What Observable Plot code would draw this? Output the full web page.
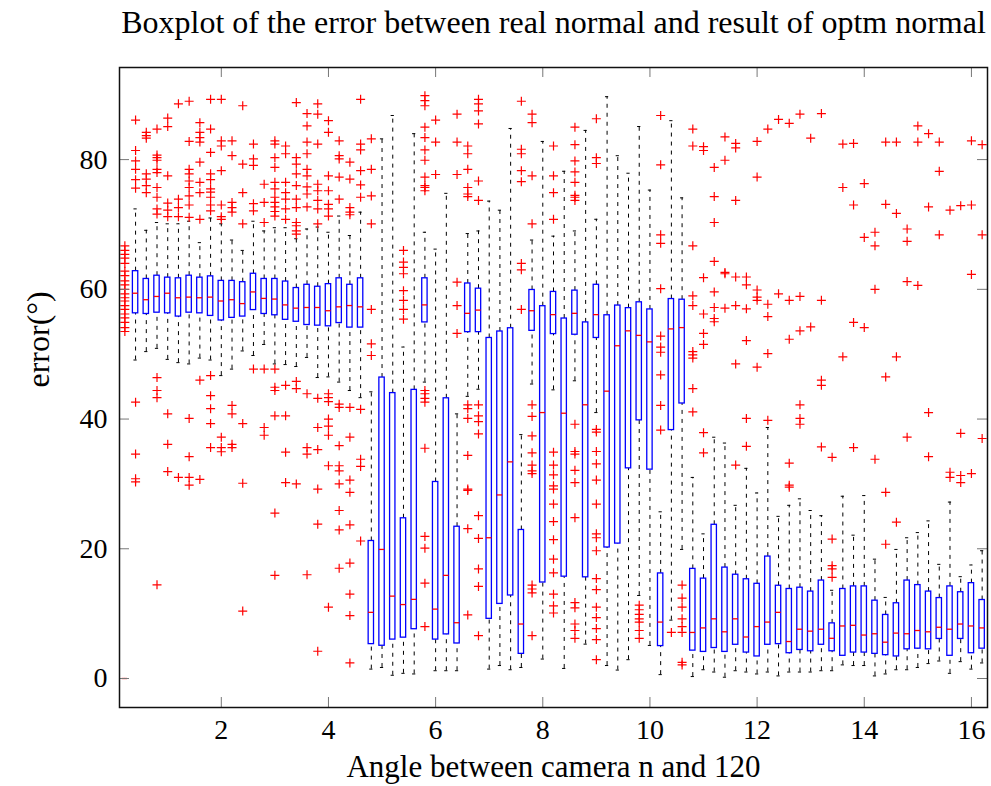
<!DOCTYPE html>
<html><head><meta charset="utf-8">
<script src="https://cdn.jsdelivr.net/npm/d3@7"></script>
<script src="https://cdn.jsdelivr.net/npm/@observablehq/plot@0.6"></script>
<style>body{margin:0;background:#fff}</style>
</head><body><div id="chart"></div>
<script>
const titleText = "Boxplot of the error between real normal and result of optm normal";
const xLabel = "Angle between camera n and 120";
const yLabel = "error(°)";
const xTicks = [2, 4, 6, 8, 10, 12, 14, 16];
const yTicks = [0, 20, 40, 60, 80];

const angles = [0.2,0.4,0.6,0.8,1.0,1.2,1.4,1.6,1.8,2.0,2.2,2.4,2.6,2.8,3.0,3.2,3.4,3.6,3.8,4.0,
4.2,4.4,4.6,4.8,5.0,5.2,5.4,5.6,5.8,6.0,6.2,6.4,6.6,6.8,7.0,7.2,7.4,7.6,7.8,8.0,
8.2,8.4,8.6,8.8,9.0,9.2,9.4,9.6,9.8,10.0,10.2,10.4,10.6,10.8,11.0,11.2,11.4,11.6,11.8,12.0,
12.2,12.4,12.6,12.8,13.0,13.2,13.4,13.6,13.8,14.0,14.2,14.4,14.6,14.8,15.0,15.2,15.4,15.6,15.8,16.0,16.2];

const whiskerLow = [0,49.1,50.4,50.9,49.2,48.7,48.5,49.4,49.1,46.7,47.7,50.5,49.8,51.5,48.5,48.4,48.1,49.5,46.4,46.5,
45.7,44.4,43.3,1.45,1.7,0.5,0.8,0.7,45.7,1.2,1.2,1.2,43.5,44.6,1.45,2.0,1.35,1.7,45.4,3.0,
44.5,1.55,45.9,5.3,41.0,2.0,1.3,2.9,12.8,5.1,0.6,9.0,19.9,0.3,1.35,1.0,0.2,1.2,1.0,0.7,
1.0,0.4,1.0,1.0,1.0,1.2,1.2,2.1,2.0,2.0,0.4,0.7,1.35,1.35,1.7,2.3,2.7,0.8,2.6,1.45,2.4];
const q1 = [0,56.3,56.2,56.4,56.3,55.8,56.4,56.3,55.9,55.2,55.6,55.8,56.8,56.2,56.0,55.3,55.0,54.5,54.4,54.3,
54.8,54.1,54.1,5.3,5.05,6.0,6.3,7.6,54.9,6.0,6.8,5.4,53.4,53.4,9.2,11.5,12.8,3.8,53.6,14.8,
53.1,15.7,53.0,15.6,52.5,20.2,20.8,32.4,39.8,32.2,5.0,38.3,42.4,4.3,4.1,4.7,4.1,5.2,4.0,3.4,
5.2,5.3,3.9,4.4,4.2,5.2,4.2,3.5,4.0,4.0,3.8,3.6,3.4,4.5,4.6,4.5,6.1,3.5,6.1,3.9,4.6];
const median = [0,59.4,58.4,58.9,59.4,58.7,58.8,58.7,58.8,58.2,58.4,57.8,59.6,58.6,58.5,57.6,57.1,57.2,57.2,56.7,
57.3,57.5,57.3,10.2,19.9,12.7,11.4,12.2,57.6,10.7,15.9,8.6,56.3,56.8,21.7,28.3,33.4,8.4,56.7,41.0,
56.1,40.9,56.3,42.2,56.1,44.3,51.3,53.6,52.9,51.9,8.7,53.9,54.1,7.1,7.8,9.2,7.2,9.2,6.4,8.0,
8.7,10.2,5.7,7.6,7.3,7.6,6.2,8.1,8.2,6.7,6.9,5.6,7.0,6.9,7.4,7.2,7.9,7.6,8.4,8.1,7.8];
const q3 = [0,62.8,61.6,62.1,61.8,61.7,62.1,61.8,62.0,61.3,61.3,61.1,62.4,61.6,61.6,61.2,60.2,60.7,60.4,60.8,
61.7,60.7,61.7,21.2,46.4,44.0,24.7,44.5,61.7,30.3,43.2,23.4,60.9,60.1,52.5,53.5,54.0,22.9,59.9,57.4,
59.6,55.5,59.8,54.9,60.7,56.0,57.5,57.1,58.0,56.9,16.2,58.5,58.4,16.9,15.4,23.7,17.1,16.0,15.3,14.6,
18.8,14.3,13.8,14.0,13.4,15.1,8.5,13.8,14.2,14.2,12.0,9.8,11.6,15.1,14.4,13.4,12.4,14.2,13.3,14.7,12.1];
const whiskerHigh = [0,72.4,69.1,70.3,70.1,70.1,70.5,67.2,71.0,70.1,67.6,66.0,70.5,69.0,69.5,69.5,67.8,69.3,69.6,68.8,
71.3,68.3,71.9,44.2,83.2,86.8,51.1,84.0,68.8,66.2,74.8,40.8,68.6,69.0,73.6,72.2,84.8,37.6,67.6,82.8,
68.2,78.2,69.0,84.5,70.8,89.7,80.6,77.9,85.1,75.3,25.7,86.0,74.1,31.0,22.3,37.2,36.3,26.7,32.4,28.6,
38.7,25.0,26.7,27.7,25.9,25.1,13.6,28.1,22.1,28.2,18.4,12.5,19.9,21.7,22.5,24.3,17.6,27.2,15.7,17.5,19.7];

const outliers = [
[66.7,66.0,65.4,64.8,64.0,62.8,62.1,61.3,60.7,60.0,59.3,58.7,58.2,57.5,56.9,56.2,55.6,54.9,54.1,53.5],
[86.1,81.4,79.8,78.5,76.9,75.6,42.6,34.6,30.8,30.3],
[84.2,83.7,83.3,77.8,77.0,76.0,74.9],
[84.7,80.7,80.3,79.9,78.5,78.0,75.7,74.2,72.4,71.6,46.4,44.4,43.3,14.45],
[86.4,85.1,77.5,73.3,72.2,71.2,40.8,36.1,31.9],
[88.6,73.9,72.6,71.2,31.0],
[89.0,82.8,78.5,77.8,76.7,75.7,74.4,73.0,71.1,40.1,34.2,31.0,29.8],
[85.7,84.2,83.4,82.7,79.6,76.5,74.9,70.8,46.0,30.7],
[89.3,84.7,81.1,77.8,76.9,75.5,75.0,74.2,73.0,72.1,46.7,43.6,41.6,39.3,35.6],
[89.3,82.9,82.1,78.3,73.0,71.2,70.8,37.2,35.6,34.96],
[82.9,80.6,73.4,72.6,71.9,42.1,40.8,36.1,35.6],
[88.3,79.3,74.9,70.1,39.3,30.1,10.4],
[82.4,80.1,79.1,73.2,72.1,47.7],
[76.2,73.4,70.3,47.7,38.7,37.5],
[82.9,82.4,80.3,78.8,76.5,75.5,74.2,73.4,72.7,72.0,71.3,47.7,44.9,44.4,40.5,25.5,15.9],
[82.1,80.9,76.5,74.9,73.9,72.4,70.8,45.2,40.5,34.9,30.2],
[88.8,80.3,79.3,77.8,76.0,73.9,72.6,70.3,69.8,69.0,68.5,45.8,44.7,30.0],
[87.1,85.2,82.7,80.9,78.5,77.5,75.8,74.7,72.7,43.9,35.6,34.6,16.0],
[88.6,87.0,82.4,76.2,75.2,73.7,72.4,70.1,43.2,38.7,35.3,29.2,23.8,4.2],
[86.0,84.2,77.5,75.2,73.1,72.4,71.3,43.9,43.3,42.7,40.0,38.9,37.5,32.8,11.0],
[82.9,80.6,80.1,77.3,73.9,42.3,41.8,35.9,32.8,32.0,30.0,25.9,22.9,17.0],
[79.6,77.0,72.6,71.9,71.5,41.8,37.2,30.6,28.7,23.7,17.8,13.0,9.7,2.4],
[89.3,82.4,81.5,78.3,76.1,74.2,41.5,33.8,32.7,21.2],
[83.2,78.5,74.4,70.1,56.9,51.6,49.8],
[],
[],
[66.0,64.2,63.4,62.4,59.8,58.3,56.9,55.4],
[],
[89.85,89.1,88.3,85.0,83.4,81.5,79.9,77.3,76.0,75.7,75.2,44.4,43.9,43.2,42.6,35.5,21.9,20.1,14.7,8.0],
[86.1,82.7,77.7],
[],
[87.0,82.7,77.7,61.1,57.5,53.2],
[82.1,80.9,78.5,75.7,74.7,74.3,42.2,41.6,40.1,34.4,29.2,29.0,23.1,9.8],
[89.3,88.6,87.5,85.5,76.7,73.7,42.2,40.5,39.6,37.7,25.1,21.6,16.9,14.2,6.6],
[],
[],
[],
[89.0,81.6,80.9,78.3,76.6,64.0,63.0,56.9],
[87.0,85.7,77.5,70.1,42.2,40.4,37.4,34.8,32.9,32.0,31.6,14.4,13.8,13.2,6.6],
[],
[82.1,77.5,74.9,70.8,34.9,32.9,31.4,29.7,29.2,26.9,24.2,21.4,18.4,16.3,13.0,11.2,10.1],
[],
[85.0,82.3,79.8,78.1,76.5,74.5,74.2,73.7,39.2,35.0,34.6,32.1,30.2,24.8,11.7,10.9,8.4,7.4,6.2],
[],
[86.3,80.3,79.4,38.4,38.0,35.0,33.1,30.6,26.9,22.3,21.7,19.7,15.4,13.7,11.0,9.4,7.7,6.0,2.9],
[],
[],
[],
[11.3,10.6,9.9,9.2,8.7,7.4,6.2],
[],
[86.8,79.2,68.4,67.1,60.1,52.8,51.1,50.3,46.8,42.1,38.3],
[7.1],
[14.4,12.4,11.0,9.2,8.0,7.1,2.5,2.1],
[84.7,82.1,66.7,59.0,57.5,50.4,49.9,49.4,44.7,41.1],
[82.0,81.4,61.8,56.2,53.2,51.5,37.9,34.8],
[78.8,74.3,70.3,64.3,59.6,57.2,55.5,55.0],
[83.5,79.9,62.6,62.4,57.1],
[82.5,81.8,73.7,61.9,57.5,48.5,32.9],
[61.9,60.7,57.0,52.1,40.1,35.8],
[82.8,77.3,59.9,58.8,58.3,48.0],
[84.7,57.7,55.8,50.1,39.8],
[86.2,59.3],
[85.6,58.3,52.3,33.2,29.8,29.5],
[87.0,58.9,53.6,42.2,40.1,39.2],
[83.3,54.2],
[87.1,58.3,46.0,45.2,35.7],
[34.1,21.5,17.4,16.9,15.6],
[82.4,75.7,49.6],
[82.5,73.0,54.9,35.6],
[76.3,68.0,54.1],
[68.8,66.7,60.0,33.8],
[82.7,73.1,46.5,28.7,20.7],
[82.7,71.7,49.6,24.1],
[69.3,67.4,61.2,37.2],
[85.2,82.7,60.6],
[84.0,72.7,41.0,34.2],
[82.7,78.2,68.4],
[72.2,31.8,31.0],
[72.9,37.8,31.3,30.2],
[82.9,73.0,62.3,31.6],
[82.3,68.4,37.0]
];

const boxes = angles.map((x, i) => ({x, lo: whiskerLow[i], q1: q1[i], med: median[i], q3: q3[i], hi: whiskerHigh[i]}));
const points = outliers.flatMap((ys, i) => ys.map(y => ({x: angles[i], y})));

const plusSymbol = {
  draw(ctx, size) {
    const r = Math.sqrt(size / Math.PI);
    ctx.moveTo(-r, 0); ctx.lineTo(r, 0);
    ctx.moveTo(0, -r); ctx.lineTo(0, r);
  }
};
const hw = 0.05, cw = 0.03;
const serif = "'Liberation Serif', 'Times New Roman', serif";

const chart = Plot.plot({
  width: 991, height: 786,
  marginLeft: 119, marginRight: 4, marginTop: 67, marginBottom: 79,
  style: {fontFamily: serif, fontSize: "28px", background: "white", color: "black"},
  x: {domain: [0.1, 16.3]},
  y: {domain: [-4.47, 94.2]},
  marks: [
    Plot.ruleX(boxes, {x: "x", y1: "q3", y2: "hi", stroke: "black", strokeWidth: 1, strokeDasharray: "4,5"}),
    Plot.ruleX(boxes, {x: "x", y1: "lo", y2: "q1", stroke: "black", strokeWidth: 1, strokeDasharray: "4,5"}),
    Plot.ruleY(boxes, {y: "hi", x1: d => d.x - cw, x2: d => d.x + cw, stroke: "black", strokeWidth: 1}),
    Plot.ruleY(boxes, {y: "lo", x1: d => d.x - cw, x2: d => d.x + cw, stroke: "black", strokeWidth: 1}),
    Plot.rect(boxes, {x1: d => d.x - hw, x2: d => d.x + hw, y1: "q1", y2: "q3", fill: "white", stroke: "blue", strokeWidth: 1.3}),
    Plot.ruleY(boxes, {y: "med", x1: d => d.x - hw, x2: d => d.x + hw, stroke: "red", strokeWidth: 1.3}),
    Plot.dot(points, {x: "x", y: "y", symbol: plusSymbol, r: 4.5, stroke: "red", strokeWidth: 1.2, fill: "none"}),
    Plot.tickX(xTicks, {x: d => d, insetTop: 630, stroke: "#777", strokeWidth: 1}),
    Plot.tickX(xTicks, {x: d => d, insetBottom: 630, stroke: "#777", strokeWidth: 1}),
    Plot.tickY(yTicks, {y: d => d, insetRight: 858, stroke: "#777", strokeWidth: 1}),
    Plot.tickY(yTicks, {y: d => d, insetLeft: 858, stroke: "#777", strokeWidth: 1}),
    Plot.axisX({ticks: xTicks, tickSize: 0, tickPadding: 12, label: null, fontSize: 28}),
    Plot.axisY({ticks: yTicks, tickSize: 0, tickPadding: 12, label: null, fontSize: 28}),
    Plot.frame({stroke: "#111", strokeWidth: 1.5}),
    Plot.text([titleText], {text: d => d, frameAnchor: "top", lineAnchor: "middle", dy: -45, fontSize: 32, fill: "black"}),
    Plot.text([xLabel], {text: d => d, frameAnchor: "bottom", lineAnchor: "middle", dy: 60, fontSize: 31, fill: "black"}),
    Plot.text([yLabel], {text: d => d, frameAnchor: "left", lineAnchor: "middle", dx: -81, rotate: -90, fontSize: 32, fill: "black"})
  ]
});
document.getElementById("chart").appendChild(chart);
</script>
</body></html>
